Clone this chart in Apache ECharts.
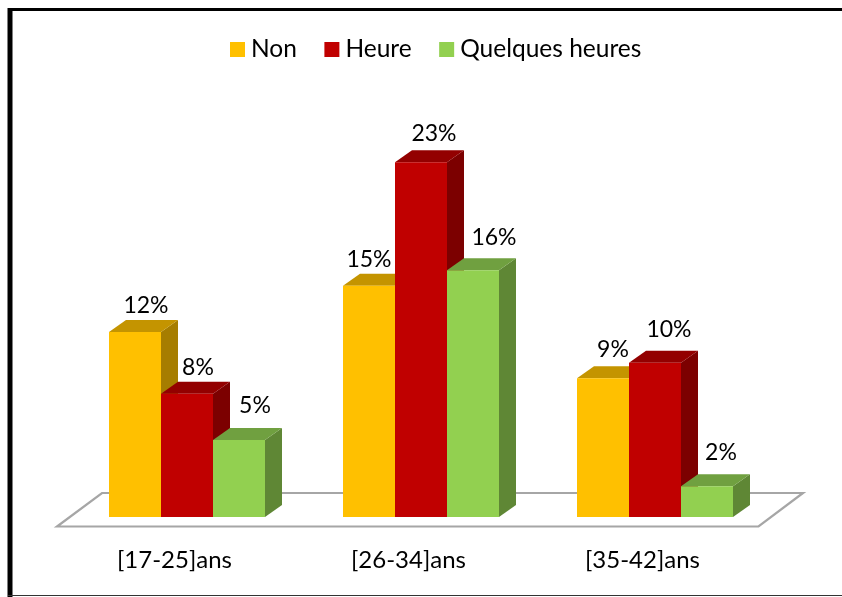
<!DOCTYPE html>
<html><head><meta charset="utf-8">
<style>html,body{margin:0;padding:0;background:#fff}#c{width:842px;height:597px}</style>
<script src="https://cdn.jsdelivr.net/npm/echarts@6/dist/echarts.min.js"></script>
</head><body><div id="c"></div>
<script>
const categories = ['[17-25]ans', '[26-34]ans', '[35-42]ans'];
const non = [12, 15, 9];
const heure = [8, 23, 10];
const quelques = [5, 16, 2];
const names = ['Non', 'Heure', 'Quelques heures'];

const FONT = 'Lato';
const DX = 17, DY = -12;
const palette = [
  {front:'#ffc000', top:'#c49400', side:'#a67d00'},
  {front:'#c00000', top:'#930000', side:'#7c0000'},
  {front:'#92d050', top:'#70a040', side:'#5f8735'}
];
// hand placement of the labels relative to the top of each bar
const labelNudge = [
  [[11,-26],[0,-26],[10,-29]],
  [[11,-26],[13,-29],[14,-33]],
  [[16,-34],[21,-33],[14,-34]]
];

function bar3d(si){
  return function(params, api){
    const i = api.value(0), v = api.value(1);
    const c = api.coord([i, v]), b = api.coord([i, 0]);
    const w = api.size([1, 0])[0] * 52 / 234;
    const x0 = c[0] + (si - 1.5) * w, x1 = x0 + w, yt = c[1], yb = b[1];
    const p = palette[si];
    const n = labelNudge[si][i];
    return {type:'group', children:[
      {type:'polygon', shape:{points:[[x1,yt],[x1+DX,yt+DY],[x1+DX,yb+DY],[x1,yb]]}, style:{fill:p.side}},
      {type:'polygon', shape:{points:[[x0,yt],[x0+DX,yt+DY],[x1+DX,yt+DY],[x1,yt]]}, style:{fill:p.top}},
      {type:'rect', shape:{x:x0, y:yt, width:w, height:yb-yt}, style:{fill:p.front}},
      {type:'text', z2:10, style:{x:x0+w/2+n[0], y:yt+n[1], text:v+'%', fill:'#000', font:'23px '+FONT, align:'center', verticalAlign:'middle'}}
    ]};
  };
}
function floor(params, api){
  const cs = params.coordSys, yb = cs.y + cs.height;
  const L = cs.x, R = cs.x + cs.width;
  return {type:'polygon', silent:true,
    shape:{points:[[L-13,yb+9.5],[R-13.5,yb+9.5],[R+31,yb-24],[L+32,yb-24]]},
    style:{fill:'#fff', stroke:'#a6a6a6', lineWidth:2.2}};
}
const seriesData = [non, heure, quelques];
const series = [{type:'custom', silent:true, renderItem:floor, data:[0], encode:{x:0,y:0}, z:1, tooltip:{show:false}}];
names.forEach((nm, si)=>{
  series.push({type:'custom', name:nm, z:2+si, itemStyle:{color:palette[si].front},
    renderItem:bar3d(si), encode:{x:0,y:1},
    data:seriesData[si].map((v,i)=>[i,v])});
});
const chart = echarts.init(document.getElementById('c'), null, {renderer:'canvas'});
chart.setOption({
  animation:false,
  backgroundColor:'#fff',
  legend:{data:names, top:37, left:230, padding:0, itemWidth:15, itemHeight:15, itemGap:27.5, icon:'rect',
    textStyle:{fontFamily:FONT, fontSize:24.5, color:'#000', padding:[0,0,0,1]}},
  grid:{left:70, right:70, top:131.5, bottom:80},
  xAxis:{type:'category', data:categories, axisLine:{show:false}, axisTick:{show:false},
    axisLabel:{fontFamily:FONT, fontSize:24, color:'#000', margin:31, padding:[0,25,0,0]}},
  yAxis:{type:'value', min:0, max:25, show:false, splitLine:{show:false}},
  series:series,
  graphic:[
    {type:'line', z:100, shape:{x1:10, y1:8, x2:10, y2:597}, style:{stroke:'#000', lineWidth:5}},
    {type:'line', z:100, shape:{x1:8, y1:9.5, x2:842, y2:9.5}, style:{stroke:'#000', lineWidth:3}},
    {type:'line', z:100, shape:{x1:8, y1:595.5, x2:842, y2:595.5}, style:{stroke:'#333', lineWidth:1}}
  ]
});
</script></body></html>
